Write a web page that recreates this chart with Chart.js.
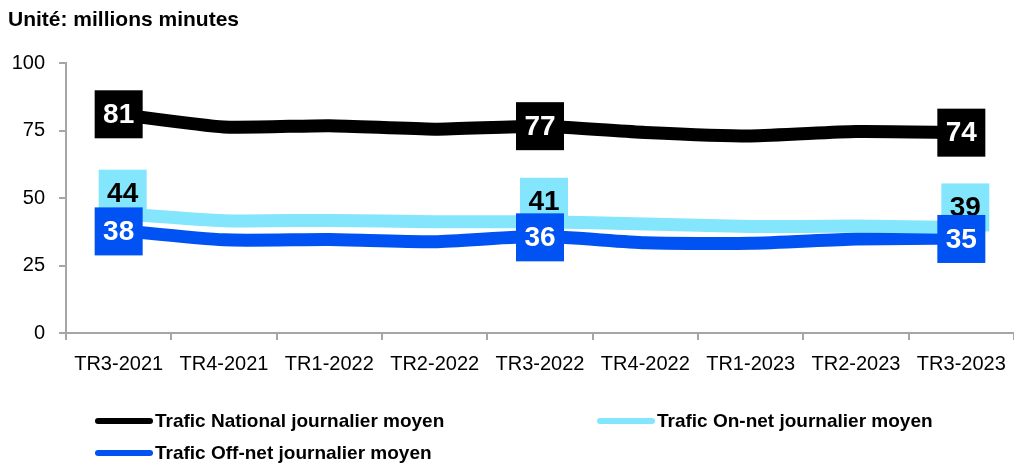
<!DOCTYPE html>
<html>
<head>
<meta charset="utf-8">
<script src="https://cdn.jsdelivr.net/npm/chart.js@4/dist/chart.umd.min.js"></script>
<style>
    body { margin: 0; background: #fff; font-family: "Liberation Sans", Arial, sans-serif; }
    #wrap { position: relative; width: 1014px; height: 463px; overflow: hidden; }
    #unite { position: absolute; left: 8px; top: 7px; font-size: 21px; font-weight: bold; color: #000; }
    .leg { position: absolute; height: 24px; display: flex; align-items: center; font-size: 19px; font-weight: bold; color: #000; white-space: nowrap; }
    .leg span.swatch { display: inline-block; width: 58px; height: 6px; border-radius: 3px; margin-right: 2px; }
</style>
</head>
<body>
<div id="wrap">
    <canvas id="chart" width="1014" height="463"></canvas>
    <div id="unite">Unité: millions minutes</div>
    <div class="leg" style="left:95px; top:409px;"><span class="swatch" style="background:#000000"></span>Trafic National journalier moyen</div>
    <div class="leg" style="left:597px; top:409px;"><span class="swatch" style="background:#83E6FD"></span>Trafic On-net journalier moyen</div>
    <div class="leg" style="left:95px; top:441px;"><span class="swatch" style="background:#0052F2"></span>Trafic Off-net journalier moyen</div>
</div>
<script>
// données (millions de minutes)
const trimestres = ["TR3-2021", "TR4-2021", "TR1-2022", "TR2-2022", "TR3-2022", "TR4-2022", "TR1-2023", "TR2-2023", "TR3-2023"];
const traficNational = [81, 76.3, 76.8, 75.5, 76.6, 74.3, 73, 74.6, 74.2];
const traficOnNet = [44.2, 41.6, 41.7, 41.2, 41.2, 40.4, 39.4, 39.6, 39.1];
const traficOffNet = [38, 34.5, 34.6, 33.8, 35.8, 33.4, 33.2, 34.8, 35.2];
const yTicks = [0, 25, 50, 75, 100];
const indexEtiquettes = [0, 4, 8];

// étiquettes encadrées (type Excel)
const boxLabels = {
    id: 'boxLabels',
    afterDatasetsDraw(chart) {
        const ctx = chart.ctx;
        chart.data.datasets.forEach((ds, di) => {
            const meta = chart.getDatasetMeta(di);
            indexEtiquettes.forEach(i => {
                const pt = meta.data[i];
                const x = pt.x + ds.lblDx;
                const y = pt.y + ds.lblDy;
                ctx.save();
                ctx.fillStyle = ds.borderColor;
                ctx.fillRect(x - 24, y - 24, 48, 48);
                ctx.fillStyle = ds.lblColor;
                ctx.font = 'bold 28px "Liberation Sans", Arial, sans-serif';
                ctx.textAlign = 'center';
                ctx.textBaseline = 'middle';
                ctx.fillText(Math.round(ds.data[i]), x, y + 1);
                ctx.restore();
            });
        });
    }
};

const axisGrey = '#A6A6A6';

new Chart(document.getElementById('chart'), {
    type: 'line',
    data: {
        labels: trimestres,
        datasets: [
            { label: 'Trafic National journalier moyen', data: traficNational, borderColor: '#000000', lblColor: '#ffffff', lblDx: 0, lblDy: 0 },
            { label: 'Trafic On-net journalier moyen', data: traficOnNet, borderColor: '#83E6FD', lblColor: '#000000', lblDx: 4, lblDy: -20 },
            { label: 'Trafic Off-net journalier moyen', data: traficOffNet, borderColor: '#0052F2', lblColor: '#ffffff', lblDx: 0, lblDy: 1 }
        ].map(d => Object.assign(d, {
            borderWidth: 13,
            pointRadius: 0,
            pointHoverRadius: 0,
            tension: 0.2,
            borderJoinStyle: 'round',
            fill: false
        }))
    },
    options: {
        responsive: false,
        animation: false,
        layout: { padding: { top: 63, left: 0, right: 0, bottom: 0 } },
        plugins: {
            legend: { display: false },
            tooltip: { enabled: false }
        },
        scales: {
            x: {
                offset: true,
                grid: { offset: true, drawOnChartArea: false, tickLength: 7, tickColor: axisGrey, lineWidth: 2 },
                border: { color: axisGrey, width: 2 },
                ticks: { color: '#000', padding: 12, maxRotation: 0, font: { size: 20, family: '"Liberation Sans", Arial, sans-serif' } },
                afterFit: s => { s.height = 130; s.paddingLeft = 0; s.paddingRight = 0; }
            },
            y: {
                min: 0,
                max: 100,
                afterBuildTicks: s => { s.ticks = yTicks.map(v => ({ value: v })); },
                grid: { drawOnChartArea: false, tickLength: 7, tickColor: axisGrey, lineWidth: 2 },
                border: { color: axisGrey, width: 2 },
                ticks: { color: '#000', padding: 14, font: { size: 20, family: '"Liberation Sans", Arial, sans-serif' } },
                afterFit: s => { s.width = 66; }
            }
        }
    },
    plugins: [boxLabels]
});
</script>
</body>
</html>
